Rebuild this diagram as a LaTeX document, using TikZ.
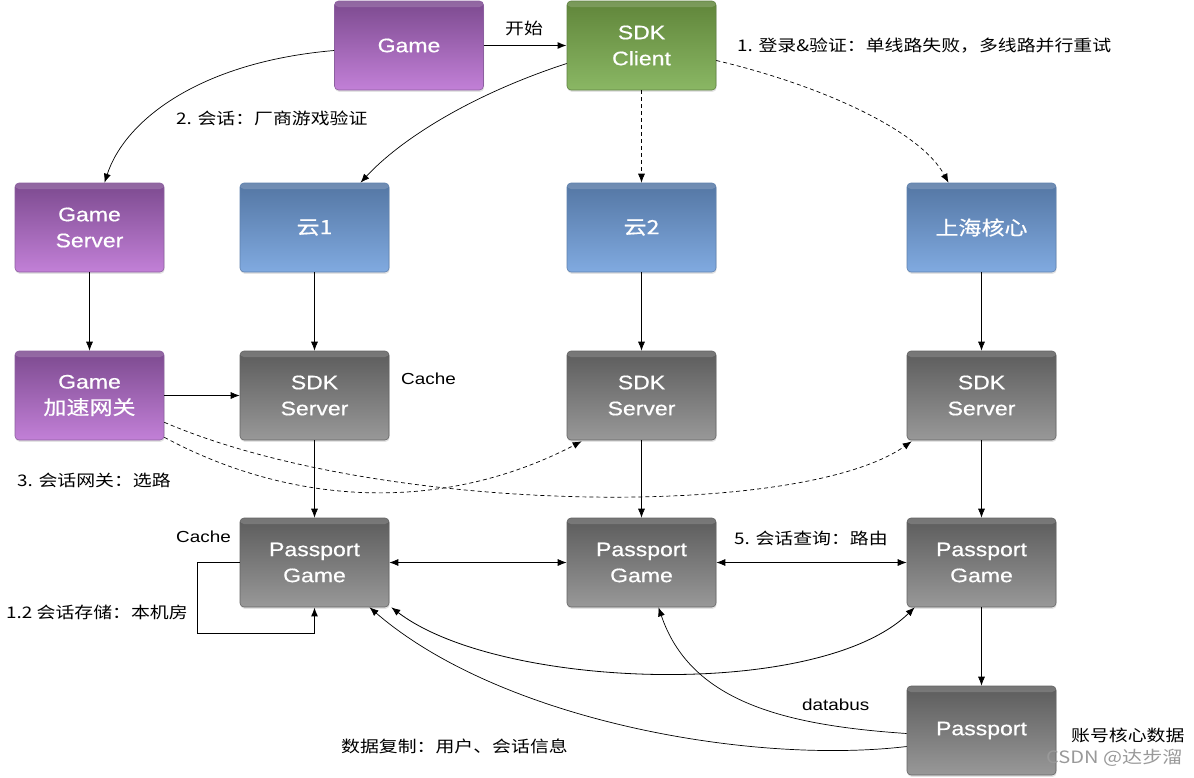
\documentclass[tikz,border=0pt]{standalone}
\usepackage{fontspec}
\setmainfont[FakeStretch=1.18]{Liberation Sans}
\newfontfamily\cjk[FakeStretch=1.18]{Noto Sans CJK SC}
\newfontfamily\boxlat[FakeStretch=1.18,FakeBold=0.6]{Liberation Sans}
\newfontfamily\boxcjk[FakeStretch=1.18,FakeBold=0.6]{Noto Sans CJK SC}
\usetikzlibrary{arrows.meta,shadows}
\definecolor{purT}{RGB}{124,74,143}
\definecolor{purB}{RGB}{194,128,215}
\definecolor{purD}{RGB}{140,95,160}
\definecolor{grnT}{RGB}{96,133,58}
\definecolor{grnB}{RGB}{138,183,100}
\definecolor{grnD}{RGB}{95,130,65}
\definecolor{bluT}{RGB}{84,118,163}
\definecolor{bluB}{RGB}{128,170,224}
\definecolor{bluD}{RGB}{95,130,175}
\definecolor{gryT}{RGB}{92,92,92}
\definecolor{gryB}{RGB}{152,152,152}
\definecolor{gryD}{RGB}{100,100,100}
\begin{document}
\begin{tikzpicture}[x=1pt,y=-1pt,
  box/.style={rectangle, rounded corners=4pt, minimum width=149pt, minimum height=89pt,
    inner sep=0pt, align=center, text=white, font=\fontsize{19.5}{26}\selectfont\boxlat,
    line width=0.6pt,
    drop shadow={shadow xshift=0.6pt, shadow yshift=-1.8pt, opacity=0.22},
    path picture={\fill[white,opacity=0.16] (path picture bounding box.north west) rectangle ([yshift=-6pt]path picture bounding box.north east);}},
  pbox/.style={box, top color=purT, bottom color=purB, draw=purD},
  gbox/.style={box, top color=grnT, bottom color=grnB, draw=grnD},
  bbox/.style={box, top color=bluT, bottom color=bluB, draw=bluD},
  kbox/.style={box, top color=gryT, bottom color=gryB, draw=gryD},
  lbl/.style={inner sep=0pt, anchor=west, font=\fontsize{16}{19}\selectfont\cjk},
  llat/.style={inner sep=0pt, anchor=west, font=\fontsize{16}{19}\selectfont},
  arr/.style={-{Latex[length=9pt,width=7pt]}, line width=0.7pt},
  darr/.style={arr, dash pattern=on 4pt off 3pt},
  both/.style={{Latex[length=9pt,width=7pt]}-{Latex[length=9pt,width=7pt]}, line width=0.8pt}]
\fill[white] (0,0) rectangle (1194,777);
\useasboundingbox (0,0) rectangle (1194,777);

% boxes
\node[pbox] (game) at (409,45.5) {Game};
\node[gbox] (client) at (641.5,45.5) {SDK\\Client};
\node[pbox] (gserver) at (89.5,227.5) {Game\\Server};
\node[bbox] (c1) at (314.5,227.5) {{\boxcjk 云1}};
\node[bbox] (c2) at (641.5,227.5) {{\boxcjk 云2}};
\node[bbox] (sh) at (981.5,227.5) {{\boxcjk 上海核心}};
\node[pbox] (gw) at (89.5,395.5) {Game\\{\boxcjk 加速网关}};
\node[kbox] (s1) at (314.5,395.5) {SDK\\Server};
\node[kbox] (s2) at (641.5,395.5) {SDK\\Server};
\node[kbox] (s3) at (981.5,395.5) {SDK\\Server};
\node[kbox] (p1) at (314.5,562.5) {Passport\\Game};
\node[kbox] (p2) at (641.5,562.5) {Passport\\Game};
\node[kbox] (p3) at (981.5,562.5) {Passport\\Game};
\node[kbox] (pp) at (981.5,730.5) {Passport};

% labels
\node[lbl, anchor=center] (lstart) at (524,28) {开始};
\node[lbl] (l1) at (737,46) {1. 登录\&验证：单线路失败，多线路并行重试};
\node[lbl] (l2) at (176,118) {2. 会话：厂商游戏验证};
\node[llat] (lc1) at (401,379) {Cache};
\node[lbl] (l3) at (17,480) {3. 会话网关：选路};
\node[llat] (lc2) at (176,537) {Cache};
\node[lbl] (l12) at (6,612) {1.2 会话存储：本机房};
\node[lbl] (l5) at (734,538) {5. 会话查询：路由};
\node[llat] (ldb) at (802,705) {databus};
\node[lbl] (lrep) at (341,746) {数据复制：用户、会话信息};
\node[lbl] (lcore) at (1071,735) {账号核心数据};
\node[lbl, text=black!40, font=\fontsize{17}{20}\selectfont\cjk] (wm) at (1046,758) {CSDN @达步溜};

% connectors
\draw[arr, line width=1.3pt] (game.east) -- (client.west);
\draw[arr] ([yshift=-5pt]game.west) .. controls (200,62) and (125,120) .. ([xshift=15pt]gserver.north);
\draw[arr] ([yshift=-18pt]client.west) .. controls (470,95) and (400,140) .. ([xshift=46pt]c1.north);
\draw[darr] (client.south) -- (c2.north);
\draw[darr] ([yshift=-15pt]client.east) .. controls (820,85) and (920,130) .. ([xshift=-33pt]sh.north);

\draw[arr] (gserver.south) -- (gw.north);
\draw[arr] (c1.south) -- (s1.north);
\draw[arr] (c2.south) -- (s2.north);
\draw[arr] (sh.south) -- (s3.north);
\draw[arr] (s1.south) -- (p1.north);
\draw[arr] (s2.south) -- (p2.north);
\draw[arr] (s3.south) -- (p3.north);
\draw[arr] (p3.south) -- (pp.north);

\draw[arr] (gw.east) -- (s1.west);
\draw[darr] ([yshift=3pt]gw.south east) .. controls (300,510) and (450,510) .. ([xshift=15pt,yshift=-1pt]s2.south west);
\draw[darr] ([yshift=18pt]gw.south east) .. controls (380,515) and (800,520) .. ([xshift=5pt,yshift=-1pt]s3.south west);

\draw[both] (p1.east) -- (p2.west);
\draw[both] (p2.east) -- (p3.west);
\draw[arr, line width=1.3pt] (p1.west) -- ++(-42,0) |- ([yshift=-26pt]p1.south) -- (p1.south);
\draw[both] ([xshift=2pt]p1.south east) .. controls (500,690) and (820,700) .. ([xshift=8pt]p3.south west);
\draw[arr] ([yshift=-3pt]pp.west) .. controls (780,725) and (690,700) .. ([xshift=17pt]p2.south);
\draw[arr] ([yshift=-16pt]pp.west) .. controls (750,765) and (500,720) .. ([xshift=55pt]p1.south);
\end{tikzpicture}
\end{document}
